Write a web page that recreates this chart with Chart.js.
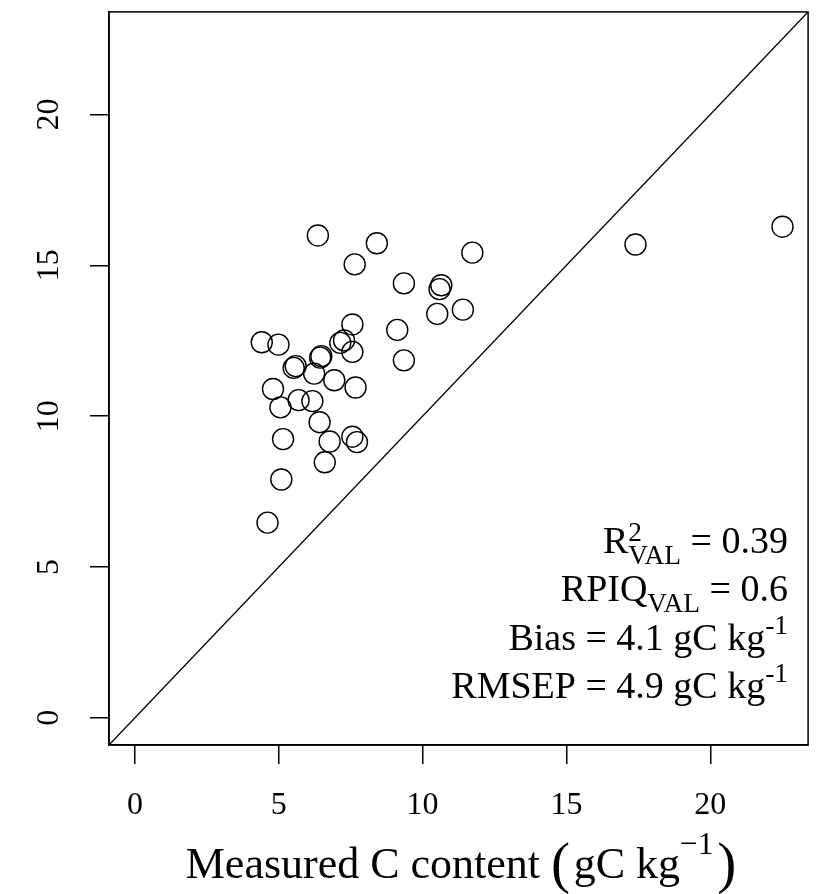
<!DOCTYPE html>
<html>
<head>
<meta charset="utf-8">
<script src="https://cdn.jsdelivr.net/npm/chart.js@4/dist/chart.umd.min.js"></script>
<style>
  html, body { margin: 0; padding: 0; background: #fff; }
  #wrap { width: 820px; height: 894px; position: relative; }
</style>
</head>
<body>
<div id="wrap"><canvas id="grafico"></canvas></div>
<script>
// carbono medido (x) vs predito (y), gC kg-1
const medido = [6.36, 8.41, 7.64, 11.73, 9.35, 10.65, 10.59, 10.51, 11.40, 7.56, 9.12, 4.41, 4.99, 7.14, 7.27, 7.56, 6.48, 6.44, 9.35, 5.59, 5.52, 6.23, 6.93, 7.67, 4.80, 5.06, 5.69, 6.17, 6.42, 6.77, 7.56, 7.72, 5.15, 6.60, 5.09, 4.61, 17.40, 22.51];
const predito = [15.99, 15.73, 15.03, 15.42, 14.40, 14.34, 14.21, 13.39, 13.53, 13.04, 12.86, 12.45, 12.37, 12.43, 12.51, 12.13, 11.99, 11.94, 11.85, 11.66, 11.60, 11.41, 11.19, 10.95, 10.90, 10.29, 10.53, 10.50, 9.80, 9.16, 9.32, 9.14, 9.24, 8.47, 7.90, 6.47, 15.69, 16.28];
const ticksX = [0, 5, 10, 15, 20];
const ticksY = [0, 5, 10, 15, 20];
const limites = [-0.9, 23.4];

// linhas de estatisticas: [texto, tipo]
const estatisticas = [
  [["R", "n"], [["2", "VAL"], "supsub"], [" = 0.39", "n"]],
  [["RPIQ", "n"], ["VAL", "sub"], [" = 0.6", "n"]],
  [["Bias = 4.1 gC kg", "n"], ["-1", "sup"]],
  [["RMSEP = 4.9 gC kg", "n"], ["-1", "sup"]]
];
const tituloX = [["Measured C content ", "n"], ["(", "big"], [0.08, "esp"], ["gC kg", "n"], ["\u22121", "sup"], [0.08, "esp"], [")", "big"]];

const FONTE = '"Liberation Serif", "Times New Roman", serif';

function fonte(px) {
  return px + "px " + FONTE;
}

function larguraParte(ctx, p, tam) {
  const [t, tipo] = p;
  if (tipo === "esp") return t * tam;
  if (tipo === "n") { ctx.font = fonte(tam); return ctx.measureText(t).width; }
  if (tipo === "big") { ctx.font = fonte(tam * 1.3); return ctx.measureText(t).width; }
  if (tipo === "supsub") {
    ctx.font = fonte(tam * 0.72);
    return Math.max(ctx.measureText(t[0]).width, ctx.measureText(t[1]).width);
  }
  ctx.font = fonte(tam * 0.72);
  return ctx.measureText(t).width;
}

function desenhaLinha(ctx, partes, x0, base, tam, alinhamento, subiSup) {
  let total = 0;
  partes.forEach(p => total += larguraParte(ctx, p, tam));
  let x = alinhamento === "right" ? x0 - total : x0 - total / 2;
  ctx.textAlign = "left";
  ctx.textBaseline = "alphabetic";
  partes.forEach(p => {
    const [t, tipo] = p;
    const w = larguraParte(ctx, p, tam);
    if (tipo === "n") {
      ctx.font = fonte(tam);
      ctx.fillText(t, x, base);
    } else if (tipo === "big") {
      ctx.font = fonte(tam * 1.3);
      ctx.fillText(t, x, base + tam * 0.08);
    } else if (tipo === "sup") {
      ctx.font = fonte(tam * 0.72);
      ctx.fillText(t, x, base - tam * subiSup);
    } else if (tipo === "sub") {
      ctx.font = fonte(tam * 0.72);
      ctx.fillText(t, x, base + tam * 0.3);
    } else if (tipo === "supsub") {
      ctx.font = fonte(tam * 0.72);
      ctx.fillText(t[0], x, base - tam * 0.32);
      ctx.fillText(t[1], x, base + tam * 0.3);
    }
    x += w;
  });
}

const molduraTextos = {
  id: "molduraTextos",
  afterDraw(chart) {
    const { ctx, chartArea: a } = chart;
    ctx.save();
    ctx.strokeStyle = "#000";
    ctx.lineWidth = 1.5;
    ctx.strokeRect(a.left, a.top, a.right - a.left, a.bottom - a.top);

    // rotulos do eixo y (girados, como no R)
    const esc = chart.scales.y;
    ctx.fillStyle = "#000";
    ctx.font = fonte(32);
    ctx.textAlign = "center";
    ctx.textBaseline = "alphabetic";
    ticksY.forEach(v => {
      ctx.save();
      ctx.translate(58, esc.getPixelForValue(v));
      ctx.rotate(-Math.PI / 2);
      ctx.fillText(String(v), 0, 0);
      ctx.restore();
    });

    // estatisticas no canto inferior direito
    estatisticas.forEach((linha, i) => {
      desenhaLinha(ctx, linha, 788, [553, 601, 650, 698][i], 38, "right", 0.42);
    });

    // titulo do eixo x
    desenhaLinha(ctx, tituloX, 461, 878, 44, "center", 0.55);
    ctx.restore();
  }
};

const ctx = document.getElementById("grafico").getContext("2d");
const grafico = new Chart(ctx, {
  type: "scatter",
  data: {
    datasets: [
      {
        data: medido.map((x, i) => ({ x: x, y: predito[i] })),
        pointStyle: "circle",
        pointRadius: 10.5,
        borderWidth: 1.4,
        borderColor: "#000",
        backgroundColor: "rgba(0,0,0,0)"
      },
      {
        type: "line",
        data: limites.map(v => ({ x: v, y: v })),
        borderColor: "#000",
        borderWidth: 1.3,
        pointRadius: 0,
        fill: false
      }
    ]
  },
  options: {
    responsive: true,
    maintainAspectRatio: false,
    animation: false,
    devicePixelRatio: 1,
    layout: { padding: { top: 9, right: 11, left: 0, bottom: 0 } },
    plugins: { legend: { display: false }, tooltip: { enabled: false } },
    scales: {
      x: {
        type: "linear",
        min: limites[0],
        max: limites[1],
        afterBuildTicks: s => { s.ticks = ticksX.map(v => ({ value: v })); },
        afterFit: s => { s.height = 149; },
        grid: { drawOnChartArea: false, drawTicks: true, tickLength: 19, color: "#000", lineWidth: 1.5 },
        border: { display: true, color: "#000", width: 1.5 },
        ticks: { color: "#000", padding: 22, font: { family: FONTE, size: 32 }, maxRotation: 0 }
      },
      y: {
        type: "linear",
        min: limites[0],
        max: limites[1],
        afterBuildTicks: s => { s.ticks = ticksY.map(v => ({ value: v })); },
        afterFit: s => { s.width = 109; },
        grid: { drawOnChartArea: false, drawTicks: true, tickLength: 19, color: "#000", lineWidth: 1.5 },
        border: { display: true, color: "#000", width: 1.5 },
        ticks: { display: false }
      }
    }
  },
  plugins: [molduraTextos]
});
</script>
</body>
</html>
